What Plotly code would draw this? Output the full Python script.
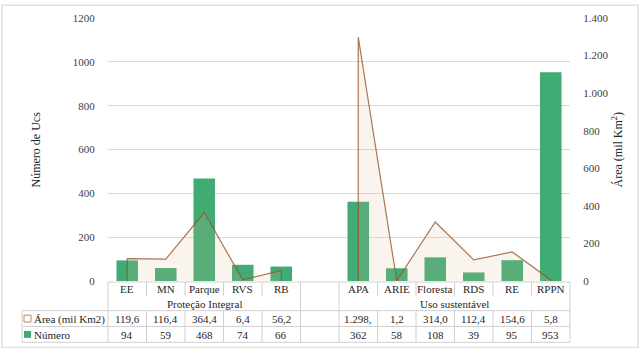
import plotly.graph_objects as go

categories = ["EE", "MN", "Parque", "RVS", "RB", "", "APA", "ARIE", "Floresta", "RDS", "RE", "RPPN"]
groups = ["Proteção Integral", "Uso sustentável"]
group_spans = [(0, 4), (6, 11)]
numero = [94, 59, 468, 74, 66, None, 362, 58, 108, 39, 95, 953]
area = [119.6, 116.4, 364.4, 6.4, 56.2, None, 1298.0, 1.2, 314.0, 112.4, 154.6, 5.8]
area_labels = ["119,6", "116,4", "364,4", "6,4", "56,2", "", "1.298,", "1,2", "314,0", "112,4", "154,6", "5,8"]
numero_labels = ["94", "59", "468", "74", "66", "", "362", "58", "108", "39", "95", "953"]
left_ticks = [0, 200, 400, 600, 800, 1000, 1200]
right_ticks = [0, 200, 400, 600, 800, 1000, 1200, 1400]
right_ticktext = ["0", "200", "400", "600", "800", "1.000", "1.200", "1.400"]

W, H = 641, 353
L, R, T, B = 108, 71, 15, 72
PW, PH = W - L - R, H - T - B
FONT = "Liberation Serif, Tinos, Times New Roman, DejaVu Serif, serif"
GREEN = "#40ab73"
GRID = "#d9d9d9"
TBL = "#d0d0d0"

def py(p):  # pixel y -> paper
    return (H - B - p) / PH

def px(p):
    return (p - L) / PW

n = len(categories)
xs = list(range(n))

fig = go.Figure()

fig.add_trace(go.Bar(
    x=xs, y=numero, marker=dict(color=GREEN, line=dict(width=0)), width=0.56,
    name="Número", yaxis="y", showlegend=False))

# area segments (split at blank category)
segs = []
cur = []
for i, v in enumerate(area):
    if v is None:
        if cur:
            segs.append(cur)
        cur = []
    else:
        cur.append(i)
if cur:
    segs.append(cur)

for seg in segs:
    sx = [seg[0]] + seg + [seg[-1]]
    sy = [0] + [area[i] for i in seg] + [0]
    fig.add_trace(go.Scatter(
        x=sx, y=sy, yaxis="y2", mode="lines", fill="toself",
        fillcolor="rgba(225,185,150,0.16)",
        line=dict(color="rgba(150,85,40,0.8)", width=1.2),
        showlegend=False, hoverinfo="skip"))

fig.update_layout(
    width=W, height=H,
    margin=dict(l=L, r=R, t=T, b=B),
    paper_bgcolor="white", plot_bgcolor="white",
    font=dict(family=FONT, size=11, color="#404040"),
    xaxis=dict(range=[-0.5, n - 0.5], showticklabels=False, showgrid=False,
               zeroline=False, showline=False, ticks=""),
    yaxis=dict(range=[0, 1200], tickvals=left_ticks, showgrid=True, gridcolor=GRID,
               gridwidth=1, zeroline=False, showline=False, ticks="outside", ticklen=10,
               tickcolor="rgba(0,0,0,0)", tickfont=dict(family=FONT, size=11, color="#404040")),
    yaxis2=dict(range=[0, 1400], tickvals=right_ticks, ticktext=right_ticktext,
                overlaying="y", side="right", showgrid=False, zeroline=False, showline=False,
                ticks="outside", ticklen=10, tickcolor="rgba(0,0,0,0)",
                tickfont=dict(family=FONT, size=11, color="#404040")),
)

shapes = []
ann = []

# outer chart border
shapes.append(dict(type="rect", xref="paper", yref="paper", x0=px(2), x1=px(638), y0=py(348), y1=py(2),
                   line=dict(color="#d9d9d9", width=1.2), fillcolor="rgba(0,0,0,0)"))

# table geometry (pixel y)
y_top, y_cat, y_grp, y_a, y_bot = 282, 296, 311, 327, 343
x_left_tbl = 22

def hline(x0p, x1p, yp):
    shapes.append(dict(type="line", xref="paper", yref="paper", x0=px(x0p), x1=px(x1p),
                       y0=py(yp), y1=py(yp), line=dict(color=TBL, width=1)))

def vline(xpaper, y0p, y1p):
    shapes.append(dict(type="line", xref="paper", yref="paper", x0=xpaper, x1=xpaper,
                       y0=py(y0p), y1=py(y1p), line=dict(color=TBL, width=1)))

hline(L, W - R, y_top)
hline(x_left_tbl, W - R, y_grp)
hline(x_left_tbl, W - R, y_a)
hline(x_left_tbl, W - R, y_bot)
vline(px(x_left_tbl), y_grp, y_bot)
for k in range(n + 1):
    xp = k / n
    if k in (0, 5, 6, n):
        vline(xp, y_top, y_bot)
    else:
        vline(xp, y_top, y_cat)
        vline(xp, y_grp, y_bot)

tf = dict(family=FONT, size=11, color="#262626")
for i, c in enumerate(categories):
    if c:
        ann.append(dict(x=i, xref="x", y=py((y_top + y_cat) / 2 + 0.5), yref="paper", text=c,
                        showarrow=False, font=tf, xanchor="center", yanchor="middle"))
    if area_labels[i]:
        ann.append(dict(x=i, xref="x", y=py((y_grp + y_a) / 2 + 0.5), yref="paper", text=area_labels[i],
                        showarrow=False, font=tf, xanchor="center", yanchor="middle"))
    if numero_labels[i]:
        ann.append(dict(x=i, xref="x", y=py((y_a + y_bot) / 2 + 0.5), yref="paper", text=numero_labels[i],
                        showarrow=False, font=tf, xanchor="center", yanchor="middle"))

for g, (a, b) in zip(groups, group_spans):
    ann.append(dict(x=(a + b) / 2, xref="x", y=py((y_cat + y_grp) / 2 + 1), yref="paper", text=g,
                    showarrow=False, font=tf, xanchor="center", yanchor="middle"))

# legend keys in table
ky_a = (y_grp + y_a) / 2
ky_n = (y_a + y_bot) / 2
shapes.append(dict(type="rect", xref="paper", yref="paper", x0=px(24), x1=px(31), y0=py(ky_a + 3.5), y1=py(ky_a - 3.5),
                   line=dict(color="#b08a6a", width=1), fillcolor="white"))
shapes.append(dict(type="rect", xref="paper", yref="paper", x0=px(24), x1=px(31), y0=py(ky_n + 3.5), y1=py(ky_n - 3.5),
                   line=dict(width=0), fillcolor=GREEN))
ann.append(dict(x=px(32), xref="paper", y=py(ky_a + 0.5), yref="paper", text="Área (mil Km2)",
                showarrow=False, font=tf, xanchor="left", yanchor="middle"))
ann.append(dict(x=px(32), xref="paper", y=py(ky_n + 0.5), yref="paper", text="Número",
                showarrow=False, font=tf, xanchor="left", yanchor="middle"))

# axis titles
ann.append(dict(x=px(35), xref="paper", y=py(148), yref="paper", text="Número de Ucs", textangle=-90,
                showarrow=False, font=dict(family=FONT, size=12, color="#262626"),
                xanchor="center", yanchor="middle"))
ann.append(dict(x=px(617), xref="paper", y=py(148), yref="paper", text="Área (mil Km<sup>2</sup>)", textangle=-90,
                showarrow=False, font=dict(family=FONT, size=12, color="#262626"),
                xanchor="center", yanchor="middle"))

fig.update_layout(shapes=shapes, annotations=ann)
fig.write_html("out.html", config={"displayModeBar": False},
               post_script="document.body.style.margin='0';document.body.style.overflow='hidden';")
